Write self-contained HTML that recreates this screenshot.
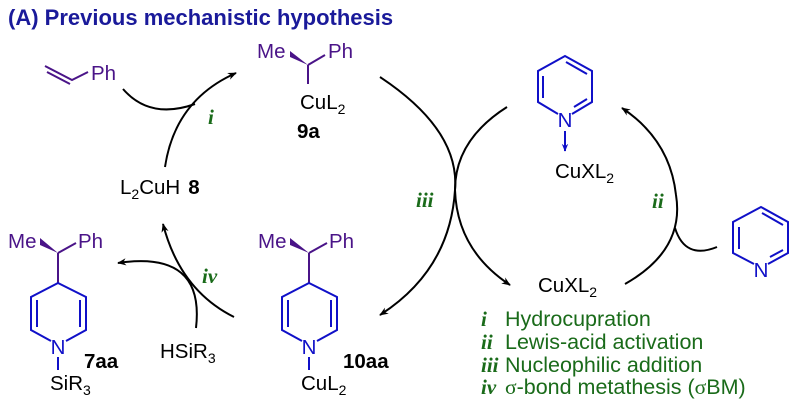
<!DOCTYPE html>
<html><head><meta charset="utf-8"><style>
body{margin:0;background:#fff}
svg{display:block}
text{font-family:"Liberation Sans",sans-serif;font-size:20.5px}
.p{fill:#4a1488}.b{fill:#1010c8}.g{fill:#1a6b1a;font-size:21.5px}
.r{font-family:"Liberation Serif",serif;font-style:italic;font-weight:bold;fill:#1a6b1a;font-size:21px}
.bd{font-weight:bold}
</style></head><body>
<svg width="799" height="407" viewBox="0 0 799 407" xmlns="http://www.w3.org/2000/svg">
<defs>
<marker id="ah" viewBox="0 0 10 10" refX="9" refY="5" markerWidth="9" markerHeight="9" orient="auto" markerUnits="userSpaceOnUse"><path d="M0,1 L10,5 L0,9 L3,5z" fill="#000"/></marker>
<marker id="ab" viewBox="0 0 10 10" refX="9" refY="5" markerWidth="8" markerHeight="8" orient="auto" markerUnits="userSpaceOnUse"><path d="M0,1 L10,5 L0,9 L3,5z" fill="#1010c8"/></marker>
</defs>
<text x="8" y="25" class="bd" style="font-size:22px;fill:#1a1a9a">(A) Previous mechanistic hypothesis</text>

<g stroke="#4a1488" stroke-width="2" fill="none">
<path d="M45,66 L72,80 L88,72"/><path d="M47,72 L70,84"/>
</g>
<text x="91" y="80" class="p">Ph</text>

<g stroke="#000" stroke-width="2" fill="none">
<path d="M123,89 Q150,120 195,104"/>
<path d="M165,167 Q175,100 236,73" marker-end="url(#ah)"/>
</g>
<text x="208" y="124" class="r">i</text>

<text x="257" y="58" class="p">Me</text>
<polygon points="290,51 290,57 308,65" fill="#4a1488"/>
<g stroke="#4a1488" stroke-width="2" fill="none"><path d="M308,65 L325,55 M308,65 L308,84"/></g>
<text x="328" y="58" class="p">Ph</text>
<text x="300" y="109">CuL<tspan font-size="14" dy="5">2</tspan></text>
<text x="297" y="138" class="bd">9a</text>

<text x="120" y="194">L<tspan font-size="14" dy="5">2</tspan><tspan dy="-5">CuH</tspan><tspan dx="8" font-weight="bold">8</tspan></text>

<g stroke="#000" stroke-width="2" fill="none">
<path d="M380,77 Q460,130 455,190 Q450,270 380,315" marker-end="url(#ah)"/>
<path d="M507,107 Q455,140 455,190 Q457,250 510,285" marker-end="url(#ah)"/>
</g>
<text x="416" y="207" class="r">iii</text>

<g stroke="#1010c8" stroke-width="2" fill="none">
<path d="M572,114 L592,102 L592,71 L565,56 L538,71 L538,102 L558,114"/>
<path d="M566,62 L587,74 M543,76 L543,98 M587,99 L574,107"/>
<path d="M565,131 L565,151" marker-end="url(#ab)"/>
</g>
<text x="565" y="127" class="b" text-anchor="middle">N</text>
<text x="555" y="178">CuXL<tspan font-size="14" dy="5">2</tspan></text>

<g stroke="#000" stroke-width="2" fill="none">
<path d="M625,284 Q685,250 676,195 Q670,140 622,108" marker-end="url(#ah)"/>
<path d="M675,228 Q685,260 717,247"/>
</g>
<text x="652" y="208" class="r">ii</text>

<g stroke="#1010c8" stroke-width="2" fill="none">
<path d="M768,264 L788,253 L788,222 L761,207 L733,222 L733,253 L754,264"/>
<path d="M762,213 L783,225 M739,227 L739,249 M783,250 L770,257"/>
</g>
<text x="761" y="277" class="b" text-anchor="middle">N</text>

<text x="538" y="292">CuXL<tspan font-size="14" dy="5">2</tspan></text>

<text x="481" y="326" class="r">i</text><text x="505" y="326" class="g">Hydrocupration</text>
<text x="481" y="349" class="r">ii</text><text x="505" y="349" class="g">Lewis-acid activation</text>
<text x="481" y="372" class="r">iii</text><text x="505" y="372" class="g">Nucleophilic addition</text>
<text x="481" y="394" class="r">iv</text><text x="505" y="394" class="g"><tspan font-family="Liberation Serif">σ</tspan>-bond metathesis (<tspan font-family="Liberation Serif">σ</tspan>BM)</text>

<text x="8" y="248" class="p">Me</text>
<polygon points="40,238 40,245 58,253" fill="#4a1488"/>
<g stroke="#4a1488" stroke-width="2" fill="none"><path d="M58,253 L76,243 M58,253 L58,283"/></g>
<text x="78" y="248" class="p">Ph</text>
<g stroke="#1010c8" stroke-width="2" fill="none">
<path d="M66,341 L86,330 L86,297 L58,283 L31,297 L31,330 L51,341"/>
<path d="M37,300 L37,327 M80,300 L80,327 M58,357 L58,370"/>
</g>
<text x="58" y="354" class="b" text-anchor="middle">N</text>
<text x="50" y="390">SiR<tspan font-size="14" dy="5">3</tspan></text>
<text x="84" y="368" class="bd" style="font-size:20.5px">7aa</text>

<g stroke="#000" stroke-width="2" fill="none">
<path d="M234,317 Q180,290 163,224" marker-end="url(#ah)"/>
<path d="M196,328 Q205,250 118,263" marker-end="url(#ah)"/>
</g>
<text x="202" y="283" class="r">iv</text>
<text x="160" y="358">HSiR<tspan font-size="14" dy="5">3</tspan></text>

<text x="258" y="248" class="p">Me</text>
<polygon points="290,238 290,245 309,253" fill="#4a1488"/>
<g stroke="#4a1488" stroke-width="2" fill="none"><path d="M309,253 L327,243 M309,253 L309,283"/></g>
<text x="329" y="248" class="p">Ph</text>
<g stroke="#1010c8" stroke-width="2" fill="none">
<path d="M317,341 L337,330 L337,297 L309,283 L282,297 L282,330 L302,341"/>
<path d="M288,300 L288,327 M331,300 L331,327 M309,357 L309,370"/>
</g>
<text x="309" y="354" class="b" text-anchor="middle">N</text>
<text x="301" y="390">CuL<tspan font-size="14" dy="5">2</tspan></text>
<text x="343" y="368" class="bd" style="font-size:20.5px">10aa</text>
</svg>
</body></html>
